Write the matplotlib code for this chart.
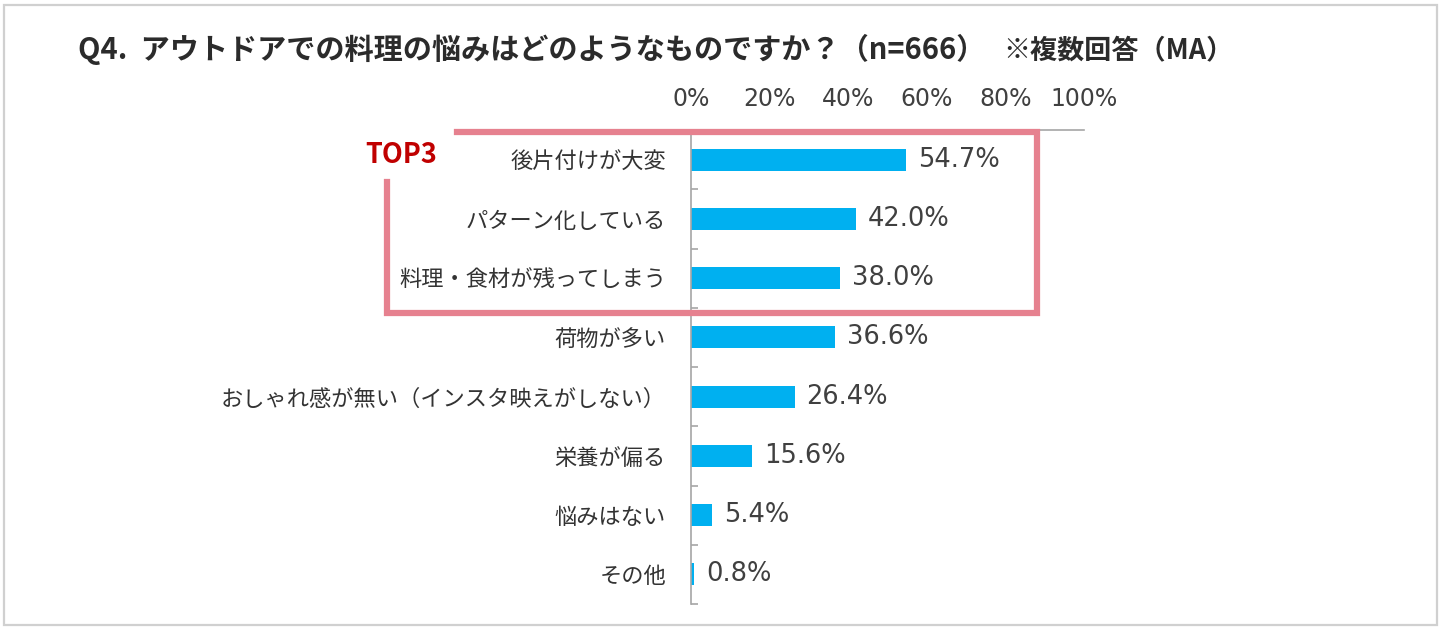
import matplotlib
matplotlib.use("Agg")
import matplotlib.pyplot as plt
from matplotlib.lines import Line2D
from matplotlib.patches import Rectangle

categories = ["後片付けが大変", "パターン化している", "料理・食材が残ってしまう", "荷物が多い",
              "おしゃれ感が無い（インスタ映えがしない）", "栄養が偏る", "悩みはない", "その他"]
values = [54.7, 42.0, 38.0, 36.6, 26.4, 15.6, 5.4, 0.8]
xticks = [0, 20, 40, 60, 80, 100]
xtick_labels = ["0%", "20%", "40%", "60%", "80%", "100%"]
title = "Q4.  アウトドアでの料理の悩みはどのようなものですか？（n=666）"
subtitle = "※複数回答（MA）"

JP = ["Noto Sans CJK JP", "DejaVu Sans"]
NUM = "DejaVu Sans"

W, H = 1441, 631
fig = plt.figure(figsize=(W / 100, H / 100), dpi=100)
fig.patch.set_facecolor("white")

# outer frame
fig.add_artist(Rectangle((4 / W, 1 - 625 / H), (1437 - 4) / W, (625 - 5) / H,
                         transform=fig.transFigure, fill=False, edgecolor="#D0D0D0", lw=1.6))

ax = fig.add_axes([691 / W, 1 - 604 / H, (1084 - 691) / W, (604 - 130) / H])
ypos = list(range(len(categories)))
ax.barh(ypos, values, height=0.37, color="#00B0F0", zorder=2)
ax.set_xlim(0, 100)
ax.set_ylim(len(categories) - 0.5, -0.5)

for s in ["right", "bottom"]:
    ax.spines[s].set_visible(False)
for s in ["left", "top"]:
    ax.spines[s].set_color("#A6A6A6")
    ax.spines[s].set_linewidth(1.2)

ax.xaxis.tick_top()
ax.set_xticks(xticks)
ax.set_xticklabels(xtick_labels, fontfamily=NUM, fontsize=17, color="#404040")
ax.tick_params(axis="x", length=0, pad=14)

ax.set_yticks(ypos)
ax.set_yticklabels(categories, fontfamily=JP, fontsize=16, color="#333333")
ax.tick_params(axis="y", which="major", length=0, pad=18)
ax.set_yticks([i - 0.5 for i in range(len(categories) + 1)], minor=True)
ax.tick_params(axis="y", which="minor", direction="in", length=5, color="#A6A6A6", width=1.2)

for y, v in zip(ypos, values):
    ax.text(v + 3.0, y, f"{v:.1f}%", va="center", ha="left", fontfamily=NUM,
            fontsize=18.5, color="#404040")

# title
fig.text(78 / W, 1 - 49 / H, title, fontfamily=JP, fontsize=21, fontweight="bold",
         color="#2B2B2B", va="center", ha="left")
fig.text(1003 / W, 1 - 51 / H, subtitle, fontfamily=JP, fontsize=19.5, fontweight="bold",
         color="#2B2B2B", va="center", ha="left")

# TOP3 highlight box
pink = "#E6818F"
xs = [387, 387, 1037, 1037, 457]
ys = [182, 313, 313, 132, 132]
fig.add_artist(Line2D([x / W for x in xs], [1 - y / H for y in ys], transform=fig.transFigure,
                      color=pink, lw=4.5, solid_joinstyle="miter", zorder=5))
fig.text(401 / W, 1 - 155 / H, "TOP3", fontfamily=JP, fontsize=19.5, fontweight="bold",
         color="#C00000", va="center", ha="center")

fig.savefig("out.png", dpi=100)
